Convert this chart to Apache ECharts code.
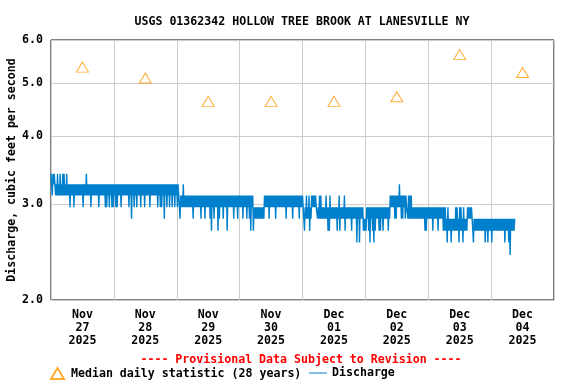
<!DOCTYPE html>
<html><head><meta charset="utf-8">
<script src="https://cdn.jsdelivr.net/npm/echarts@6/dist/echarts.min.js"></script>
<style>html,body{margin:0;padding:0;background:#fff}#c{width:576px;height:384px}</style>
</head><body><div id="c"></div>
<script>
// ---- data ----
const dayLabels = ['Nov\n27\n2025','Nov\n28\n2025','Nov\n29\n2025','Nov\n30\n2025','Dec\n01\n2025','Dec\n02\n2025','Dec\n03\n2025','Dec\n04\n2025'];
const medianValues = [5.35, 5.11, 4.63, 4.63, 4.63, 4.72, 5.64, 5.23];
const yTicks = [2, 3, 4, 5, 6];
// discharge levels (cfs) seen in the 15-minute record
const dischargeLevels = [3.41, 3.26, 3.11, 2.96, 2.82, 2.68, 2.55, 2.42];
// 15-minute readings from Nov 27 00:00, one code per reading (index into dischargeLevels)
const dischargeNov27 = '0120101212'+'0212021202'+'0212021213'+'1212131212'+'1212121213'+'1212021212'+'1312121212'+'1213121212'+'1213131213'+'121313';
const dischargeNov28 = '1213131212'+'1312121212'+'1213121412'+'1312131212'+'1312121312'+'1212131212'+'1212121312'+'1313121412'+'1312131213'+'121312';
const dischargeNov29 = '1312242323'+'1323232323'+'2323242323'+'2323232423'+'2324232323'+'2425232423'+'2325242323'+'2423232523'+'2323232423'+'232423';
const dischargeNov30 = '2323242323'+'2423242523'+'2534343434'+'3434343423'+'2323242323'+'2323242323'+'2323232323'+'2423232323'+'2423232323'+'242323';
const dischargeDec01 = '2335342434'+'2534232323'+'2334342424'+'3434342435'+'3524343434'+'3435342534'+'3434253434'+'3434353434'+'3436343634'+'343545';
const dischargeDec02 = '4534353634'+'3536353434'+'3535343534'+'3434353423'+'2323242423'+'2313242423'+'2423342424'+'2434343434'+'3434343434'+'353534';
const dischargeDec03 = '3434343534'+'3434353434'+'3435353546'+'3545464545'+'4535354635'+'3546354545'+'3434343446'+'4545454545'+'4545454645'+'464545';
const dischargeDec04 = '4645454545'+'4545454545'+'4645454647'+'4545454';
const hoursPerReading = 0.25;

const codes = dischargeNov27 + dischargeNov28 + dischargeNov29 + dischargeNov30 + dischargeDec01 + dischargeDec02 + dischargeDec03 + dischargeDec04;
const dischargeData = [];
for (let i = 0; i < codes.length; i++) {
  dischargeData.push([i * hoursPerReading, dischargeLevels[+codes[i]]]);
}

const FONT = 'DejaVu Sans Mono';
const FS = 11.6;
const chart = echarts.init(document.getElementById('c'), null, {renderer: 'canvas'});
chart.setOption({
  animation: false,
  backgroundColor: '#fff',
  title: [
    {text: 'USGS 01362342 HOLLOW TREE BROOK AT LANESVILLE NY', left: 297, top: 11, textAlign: 'center',
     textStyle: {fontFamily: FONT, fontSize: FS, fontWeight: 'bold', color: '#000'}},
    {text: '---- Provisional Data Subject to Revision ----', left: 296, top: 349, textAlign: 'center',
     textStyle: {fontFamily: FONT, fontSize: FS, fontWeight: 'bold', color: '#ff0000'}}
  ],
  legend: [
    {data: ['Median daily statistic (28 years)'], left: 50, top: 367, itemWidth: 13, itemHeight: 11, padding: 0, itemGap: 0,
     textStyle: {fontFamily: FONT, fontSize: FS, fontWeight: 'bold', color: '#000', padding: [0, 0, 0, 2]}},
    {data: [{name: 'Discharge', icon: 'path://M0 0H18V1H0Z'}], left: 309, top: 367, itemWidth: 18, itemHeight: 1.2, padding: 0,
     textStyle: {fontFamily: FONT, fontSize: FS, fontWeight: 'bold', color: '#000'}}
  ],
  grid: {left: 51, right: 22, top: 40, bottom: 84, show: true, borderColor: '#000', borderWidth: 1,
         containLabel: false, outerBoundsMode: 'none'},
  xAxis: [
    {type: 'value', min: 0, max: 192, interval: 24,
     axisLine: {show: false}, axisTick: {show: false}, axisLabel: {show: false},
     splitLine: {show: true, lineStyle: {color: '#cccccc', width: 1}}},
    {type: 'category', data: dayLabels, boundaryGap: true, position: 'bottom',
     axisLine: {show: false}, axisTick: {show: false}, splitLine: {show: false},
     axisLabel: {margin: 8, lineHeight: 13, fontFamily: FONT, fontSize: FS, fontWeight: 'bold', color: '#000', interval: 0}}
  ],
  yAxis: {
    type: 'log', logBase: 10, min: 2, max: 6,
    name: 'Discharge, cubic feet per second', nameLocation: 'middle', nameGap: 33, nameMoveOverlap: false,
    nameTextStyle: {fontFamily: FONT, fontSize: FS, fontWeight: 'bold', color: '#000'},
    axisLine: {show: false},
    axisTick: {show: false, customValues: yTicks},
    axisLabel: {customValues: yTicks, margin: 8, fontFamily: FONT, fontSize: FS, fontWeight: 'bold', color: '#000',
      formatter: v => Number(v).toFixed(1)},
    splitLine: {show: true, lineStyle: {color: '#cccccc', width: 1}}
  },
  series: [
    {name: 'Median daily statistic (28 years)', type: 'scatter', xAxisIndex: 1, yAxisIndex: 0,
     data: medianValues, symbol: 'triangle', symbolSize: [12, 10], z: 5,
     itemStyle: {color: 'rgba(255,255,255,0)', borderColor: '#ff9900', borderWidth: 1}},
    {name: 'Discharge', type: 'line', xAxisIndex: 0, yAxisIndex: 0, data: dischargeData,
     symbol: 'none', showSymbol: false, z: 4,
     lineStyle: {color: '#0080cc', width: 1.4, join: 'bevel'}, itemStyle: {color: '#0080cc'}}
  ]
});
</script></body></html>
